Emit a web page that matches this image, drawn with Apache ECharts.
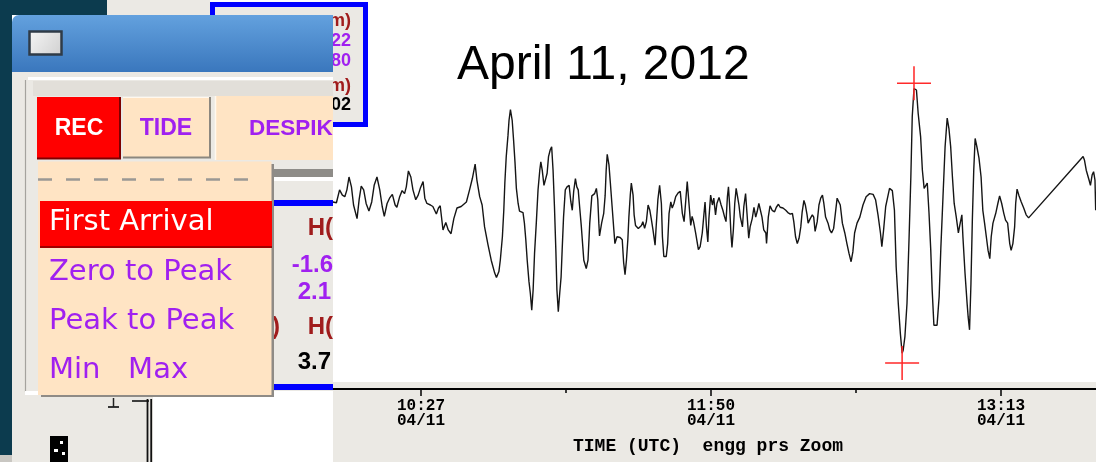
<!DOCTYPE html>
<html>
<head>
<meta charset="utf-8">
<script src="https://cdn.jsdelivr.net/npm/echarts@6/dist/echarts.min.js"></script>
<style>
  html, body { margin: 0; padding: 0; background: #ffffff; }
  #chart { width: 1096px; height: 462px; }
</style>
</head>
<body>
<div id="chart"></div>
<script>
// Pressure-gauge water height (cm) on 04/11, time in minutes after 10:27 UTC
const minutes = [
  -25.2, -24.2, -23.3, -22.5, -21.8, -21.2, -20.6, -19.9, -19.3, -18.3, -17.7, -17.1, -16.4, -15.7, -14.9, -14.1,
  -13.4, -12.6, -11.8, -11.1, -10.5, -9.7, -9.0, -8.2, -7.4, -6.9, -6.1, -5.4, -4.7, -4.2, -3.6, -2.9, -2.3, -1.5,
  -0.8, -0.2, 0.6, 1.1, 1.7, 2.7, 3.4, 4.4, 5.0, 5.5, 6.3, 7.1, 7.8, 8.6, 9.4, 10.3, 11.5, 12.0, 13.0, 13.9, 14.7,
  15.5, 16.0, 16.8, 17.5, 18.2, 19.2, 20.1, 21.1, 21.6, 22.3, 22.7, 23.3, 23.7, 24.0, 24.4, 24.9, 25.2, 25.6, 26.1,
  26.5, 26.9, 27.3, 27.8, 28.2, 28.7, 29.2, 29.6, 30.0, 30.4, 30.9, 31.3, 31.7, 32.1, 32.5, 33.0, 33.5, 34.0, 34.3,
  34.7, 35.2, 35.6, 36.1, 36.5, 37.0, 37.4, 37.8, 38.2, 38.6, 38.9, 39.3, 39.7, 40.1, 40.4, 40.8, 41.3, 41.8, 42.4,
  42.9, 43.3, 43.7, 44.2, 44.6, 45.0, 45.4, 45.9, 46.6, 47.3, 47.8, 48.3, 48.9, 49.7, 50.2, 50.6, 50.9, 51.1, 51.7,
  52.3, 52.7, 53.0, 53.3, 53.8, 54.2, 54.7, 55.2, 55.5, 56.1, 57.0, 57.6, 58.0, 58.4, 58.8, 59.2, 59.5, 59.9, 60.2,
  60.7, 61.0, 61.4, 62.2, 63.1, 63.5, 64.0, 64.5, 65.0, 65.5, 65.9, 66.4, 67.0, 67.3, 67.8, 68.3, 68.8, 69.1, 69.5,
  70.2, 70.6, 71.0, 71.5, 71.9, 72.4, 72.9, 73.6, 74.2, 74.8, 75.3, 75.8, 76.2, 76.7, 77.2, 77.6, 78.0, 78.6, 79.4,
  79.9, 80.5, 81.0, 81.3, 81.7, 82.1, 82.4, 82.9, 83.4, 83.8, 84.3, 84.7, 85.3, 85.9, 86.4, 86.9, 87.3, 87.7, 88.0,
  88.3, 88.7, 89.0, 89.4, 89.8, 90.2, 90.6, 91.0, 91.4, 92.0, 92.4, 92.9, 93.3, 93.8, 94.2, 94.8, 95.3, 95.8, 96.2,
  96.7, 97.1, 97.6, 98.1, 98.7, 98.9, 99.4, 99.9, 100.5, 101.2, 101.7, 102.3, 102.8, 103.6, 104.4, 105.0, 105.7,
  106.3, 106.7, 107.2, 107.7, 108.2, 108.7, 109.1, 109.6, 110.0, 110.5, 110.8, 111.4, 112.0, 112.4, 112.8, 113.4,
  113.9, 114.4, 114.9, 115.3, 115.8, 116.5, 117.0, 117.5, 118.1, 118.6, 119.1, 119.6, 120.0, 120.6, 121.3, 121.9,
  122.5, 123.1, 123.6, 124.1, 124.8, 125.6, 126.5, 127.4, 128.4, 129.4, 130.1, 130.8, 131.5, 131.9, 132.4, 133.0,
  133.6, 134.1, 134.9, 135.5, 136.0, 136.6, 137.2, 137.7, 138.0, 138.5, 139.1, 139.7, 140.2, 140.6, 141.1, 141.8,
  142.3, 143.0, 143.5, 144.0, 144.4, 144.9, 145.4, 145.9, 146.3, 146.8, 147.7, 148.3, 148.8, 149.4, 150.0, 150.6,
  151.1, 151.6, 152.1, 152.6, 153.2, 153.8, 154.2, 154.8, 155.1, 155.7, 156.3, 156.6, 157.0, 157.4, 157.8, 158.2,
  158.6, 159.1, 159.7, 160.3, 160.8, 161.3, 161.8, 162.3, 162.8, 163.2, 163.7, 164.5, 165.1, 165.6, 166.2, 166.8,
  167.3, 167.9, 168.5, 168.9, 169.4, 169.9, 170.2, 170.6, 171.1, 171.8, 172.5, 173.2, 173.9, 189.5, 189.9, 190.4,
  191.2, 191.6, 192.1, 192.5, 192.9, 193.1
];
const heightCm = [
  0.53, 0.52, 0.69, 0.62, 0.60, 0.69, 0.86, 0.73, 0.49, 0.31, 0.56, 0.74, 0.69, 0.51, 0.41, 0.53,
  0.75, 0.86, 0.69, 0.47, 0.34, 0.51, 0.58, 0.63, 0.49, 0.46, 0.60, 0.68, 0.64, 0.73, 0.94, 0.86, 0.69, 0.56,
  0.62, 0.71, 0.80, 0.58, 0.51, 0.49, 0.47, 0.37, 0.45, 0.48, 0.16, 0.26, 0.16, 0.11, 0.31, 0.45, 0.47, 0.46, 0.53, 0.69, 0.84,
  1.03, 0.82, 0.60, 0.49, 0.20, -0.04, -0.24, -0.41, -0.47, -0.39, -0.24, 0.07, 0.42, 0.78, 1.13, 1.41, 1.61, 1.75, 1.61,
  1.35, 1.06, 0.71, 0.51, 0.41, 0.43, 0.39, 0.25, 0.03, -0.24, -0.52, -0.68, -0.90, -0.63, -0.15, 0.25, 0.69, 0.95, 1.06,
  0.95, 0.75, 0.73, 0.91, 1.13, 1.22, 1.26, 0.95, 0.47, -0.11, -0.63, -0.92, -0.68, -0.46, -0.11, 0.33, 0.69, 0.73, 0.75,
  0.53, 0.42, 0.67, 0.84, 0.73, 0.69, 0.47, 0.20, -0.24, -0.35, -0.24, 0.25, 0.61, 0.64, 0.71, 0.56, 0.25, 0.08, 0.25,
  0.38, 0.61, 0.95, 1.16, 1.02, 0.78, 0.47, 0.16, -0.02, 0.07, 0.06, 0.03, -0.27, -0.43, -0.24, 0.03, 0.33, 0.62, 0.78,
  0.62, 0.36, 0.22, 0.18, 0.22, 0.27, 0.18, 0.27, 0.49, 0.42, 0.31, 0.16, -0.04, 0.20, 0.56, 0.75, 0.51, 0.07, -0.19,
  -0.19, -0.02, 0.38, 0.53, 0.45, 0.51, 0.60, 0.65, 0.67, 0.38, 0.27, 0.56, 0.80, 0.51, 0.22, 0.34, 0.27, 0.12, -0.10,
  -0.06, 0.12, 0.38, 0.53, 0.20, 0.00, 0.31, 0.62, 0.49, 0.58, 0.36, 0.51, 0.59, 0.49, 0.42, 0.33, 0.27, 0.60, 0.73,
  0.51, 0.12, -0.07, 0.16, 0.51, 0.71, 0.60, 0.49, 0.33, 0.20, 0.47, 0.64, 0.38, 0.05, 0.20, 0.31, 0.46, 0.33, 0.40,
  0.51, 0.53, 0.33, 0.16, 0.12, -0.02, 0.33, 0.48, 0.42, 0.40, 0.46, 0.50, 0.46, 0.45, 0.42, 0.39, 0.37,
  0.38, 0.27, 0.07, -0.02, 0.05, 0.20, 0.40, 0.55, 0.49, 0.36, 0.25, 0.31, 0.36, 0.33, 0.14, 0.27,
  0.49, 0.58, 0.62, 0.51, 0.33, 0.25, 0.16, 0.12, 0.18, 0.38, 0.58, 0.58, 0.49, 0.25, 0.12, -0.02,
  -0.15, -0.26, -0.13, 0.12, 0.25, 0.33, 0.49, 0.60, 0.64, 0.63, 0.56, 0.36, 0.12, -0.06, 0.16, 0.47,
  0.60, 0.71, 0.68, 0.42, -0.33, -0.81, -1.21, -1.47, -1.43, -1.25, -0.81, 0.07, 0.86, 1.66, 2.03, 2.01,
  1.70, 1.39, 0.95, 0.71, 0.73, 0.78, 0.38, -0.11, -0.63, -1.10, -1.10, -0.72, -0.06, 0.60, 1.26, 1.64,
  1.50, 1.26, 0.86, 0.51, 0.33, 0.12, 0.22, 0.36, 0.07, -0.41, -0.81, -0.99, -1.16, -0.55, 0.29, 0.95,
  1.37, 1.26, 1.11, 0.86, 0.42, 0.25, 0.07, -0.11, -0.22, 0.07, 0.25, 0.38, 0.51, 0.61, 0.51, 0.38,
  0.29, 0.25, -0.02, -0.11, -0.02, 0.20, 0.51, 0.70, 0.62, 0.53, 0.45, 0.36, 0.32, 1.13, 1.08, 0.95,
  0.82, 0.75, 0.89, 0.93, 0.82, 0.42
];

// Picked extremes (zero-to-peak readout): time of sample and height
const extremeMinutes = [141.1, 137.7];
const extremeHeights = [2.1, -1.6];

// Time axis
const tickMinutes = [0, 83, 166];
const tickTimes = ['10:27', '11:50', '13:13'];
const tickDate = '04/11';
const minorTickMinutes = [41.5, 124.5];

// Panel texts
const buttonLabels = ['REC', 'TIDE', 'DESPIK'];
const menuItems = ['First Arrival', 'Zero to Peak', 'Peak to Peak', 'Min   Max'];

const GREY = '#ebe9e4', TEAL = '#0c3b4e', PEACH = '#ffe4c4', PURPLE = '#a020f0', BROWN = '#a01c1c', BLUE = '#0000ff';
const SANS = '"Liberation Sans", Arial, sans-serif';
const MENU = '"DejaVu Sans", Verdana, sans-serif';

const els = [];
function rect(x, y, w, h, fill, z, extra) {
  els.push(Object.assign({ type: 'rect', silent: true, z: z, shape: { x: x, y: y, width: w, height: h }, style: { fill: fill } }, extra || {}));
}
function seg(x1, y1, x2, y2, stroke, lw, z, dash) {
  els.push({ type: 'line', silent: true, z: z, shape: { x1: x1, y1: y1, x2: x2, y2: y2 },
    style: { stroke: stroke, lineWidth: lw, lineDash: dash || null } });
}
function label(str, x, y, font, fill, z, align) {
  els.push({ type: 'text', silent: true, z: z, x: x, y: y,
    style: { text: str, font: font, fill: fill, textAlign: align || 'left', textVerticalAlign: 'middle', align: align || 'left', verticalAlign: 'middle' } });
}

// grey strip under the time axis
rect(330, 382, 766, 80, GREY, 1);

// readout box at the top (partly behind the control window)
rect(107, 0, 103, 15, GREY, 9);
rect(212.5, 4.5, 153, 120, GREY, 10, { style: { fill: GREY, stroke: BLUE, lineWidth: 5 } });
label('m)', 351, 21, 'bold 18px ' + SANS, BROWN, 11, 'right');
label('22', 351, 41, 'bold 18px ' + SANS, PURPLE, 11, 'right');
label('80', 351, 61, 'bold 18px ' + SANS, PURPLE, 11, 'right');
label('m)', 351, 86, 'bold 18px ' + SANS, BROWN, 11, 'right');
label('02', 351, 105, 'bold 18px ' + SANS, '#000', 11, 'right');

// desktop
rect(0, 0, 107, 15, TEAL, 12);
rect(0, 0, 12, 462, TEAL, 12);

// control window
rect(12, 15, 321, 57, { type: 'linear', x: 0, y: 0, x2: 0, y2: 1,
  colorStops: [{ offset: 0, color: '#63a1de' }, { offset: 1, color: '#3a77bd' }] }, 20, { shape: { x: 12, y: 15, width: 321, height: 57, r: [7, 0, 0, 0] } });
rect(12, 72, 321, 390, GREY, 20);
rect(29.5, 31.5, 32, 23, '#e4e4e4', 21, { style: { fill: { type: 'linear', x: 0, y: 0, x2: 1, y2: 1,
  colorStops: [{ offset: 0, color: '#f6f6f6' }, { offset: 1, color: '#cfcfcf' }] }, stroke: '#2f3b47', lineWidth: 2.5 } });
rect(28, 77, 305, 3, '#ffffff', 21);
rect(33, 81, 300, 15, '#e2dfd9', 21);
seg(25.5, 80, 25.5, 392, '#a5a39e', 1.2, 21);

// buttons
rect(37, 97, 84, 62, '#ff0000', 22);
seg(120, 97, 120, 159, '#7d0000', 2, 23);
seg(37, 158.5, 121, 158.5, '#7d0000', 2, 23);
rect(123, 97, 88, 61, PEACH, 22);
seg(123, 97.5, 211, 97.5, '#fff8ee', 1, 23);
seg(210, 97, 210, 158, '#8c877f', 2, 23);
seg(123, 157.5, 211, 157.5, '#8c877f', 2, 23);
rect(215, 96, 118, 64, PEACH, 22);
seg(215.5, 96, 215.5, 160, '#fff8ee', 1.5, 23);
label(buttonLabels[0], 79, 129, 'bold 23px ' + SANS, '#ffffff', 24, 'center');
label(buttonLabels[1], 166, 129, 'bold 23px ' + SANS, PURPLE, 24, 'center');
label(buttonLabels[2], 249, 129, 'bold 22.5px ' + SANS, PURPLE, 24, 'left');

// frame edge to the right of the menu
rect(273, 169, 60, 8, '#8e8c88', 22);
rect(273, 177, 60, 4, '#ffffff', 22);

// result panel behind the menu
rect(273, 200, 60, 6, BLUE, 22);
rect(273, 384, 60, 6, BLUE, 22);
label('H(', 333, 228, 'bold 24px ' + SANS, BROWN, 23, 'right');
label('-1.6', 333, 265, 'bold 24px ' + SANS, PURPLE, 23, 'right');
label('2.1', 331, 292, 'bold 24px ' + SANS, PURPLE, 23, 'right');
label(')', 272, 327, 'bold 24px ' + SANS, BROWN, 23, 'left');
label('H(', 333, 327, 'bold 24px ' + SANS, BROWN, 23, 'right');
label('3.7', 331, 362, 'bold 24px ' + SANS, '#000', 23, 'right');

// lower part of the window
rect(25, 391, 308, 4, '#ffffff', 22);
rect(153, 391, 180, 71, '#ffffff', 22);
seg(147.5, 399, 147.5, 462, '#111', 1.8, 23);
seg(151.2, 399, 151.2, 462, '#111', 1.8, 23);
seg(132, 401, 149, 401, '#111', 1.6, 23);
seg(113.5, 398, 113.5, 407, '#222', 1.5, 23);
seg(108, 407, 119, 407, '#222', 1.8, 23);
rect(50, 436, 18, 26, '#000000', 23);
rect(60, 441, 3, 3, '#ffffff', 24);
rect(54, 449, 4, 3, '#ffffff', 24);
rect(62, 452, 3, 3, '#ffffff', 24);
rect(0, 455, 12, 7, '#c9c7c2', 24);

// drop-down menu
rect(41, 164, 233, 233, '#8f8b86', 30);
rect(38, 161.5, 233.5, 233.5, PEACH, 31);
seg(38, 179.5, 262, 179.5, '#9b9894', 2.5, 32, [14, 14]);
rect(40, 201, 232, 47, '#ff0000', 32);
seg(40, 247, 272, 247, '#a00000', 2, 33);
label(menuItems[0], 49, 222, '29px ' + MENU, '#ffffff', 34);
label(menuItems[1], 49, 272, '29px ' + MENU, PURPLE, 34);
label(menuItems[2], 49, 321, '29px ' + MENU, PURPLE, 34);
label(menuItems[3], 49, 370, '29px ' + MENU, PURPLE, 34);

const crossPath = 'path://M-1,-0.045 H1 V0.045 H-1 Z M-0.045,-1 H0.045 V1 H-0.045 Z';

const chart = echarts.init(document.getElementById('chart'), null, { renderer: 'canvas' });
chart.setOption({
  animation: false,
  backgroundColor: '#ffffff',
  title: {
    text: 'April 11, 2012', left: 457, top: 42, padding: 0,
    textStyle: { fontFamily: SANS, fontSize: 48, fontWeight: 'normal', color: '#000' }
  },
  grid: { left: 330, right: 0, top: 0, bottom: 80, containLabel: false },
  xAxis: [{
    type: 'value', min: -26.04, max: 193.19, offset: 7, z: 4,
    name: 'TIME (UTC)  engg prs Zoom', nameLocation: 'middle', nameGap: 48,
    nameTextStyle: { fontFamily: '"Liberation Mono", monospace', fontWeight: 'bold', fontSize: 18, color: '#000',
      padding: [0, 10, 0, 0] },
    axisLine: { show: true, onZero: false, lineStyle: { color: '#000', width: 2 } },
    axisTick: { show: true, customValues: tickMinutes, length: 7, lineStyle: { color: '#000', width: 1.5 } },
    axisLabel: {
      customValues: tickMinutes, margin: 9, lineHeight: 15.5,
      fontFamily: '"Liberation Mono", monospace', fontWeight: 'bold', fontSize: 16, color: '#000',
      formatter: function (v) { const i = tickMinutes.indexOf(v); return i < 0 ? '' : tickTimes[i] + '\n' + tickDate; }
    },
    splitLine: { show: false }
  }, {
    type: 'value', position: 'bottom', min: -26.04, max: 193.19, offset: 7, z: 4,
    axisLine: { show: false, onZero: false },
    axisTick: { show: true, customValues: minorTickMinutes, length: 4, lineStyle: { color: '#000', width: 1.5 } },
    axisLabel: { show: false },
    splitLine: { show: false }
  }],
  yAxis: { type: 'value', min: -1.85, max: 3.2, show: false, splitLine: { show: false } },
  series: [{
    type: 'line', z: 6, symbol: 'none', xAxisIndex: 0,
    lineStyle: { color: '#151515', width: 1.4 },
    data: minutes.map(function (m, i) { return [m, heightCm[i]]; })
  }, {
    type: 'scatter', z: 7, xAxisIndex: 0, symbol: crossPath, symbolSize: 34,
    itemStyle: { color: '#ff2a2a', opacity: 1 },
    data: extremeMinutes.map(function (m, i) { return [m, extremeHeights[i]]; })
  }],
  graphic: { elements: els }
});
</script>
</body>
</html>
